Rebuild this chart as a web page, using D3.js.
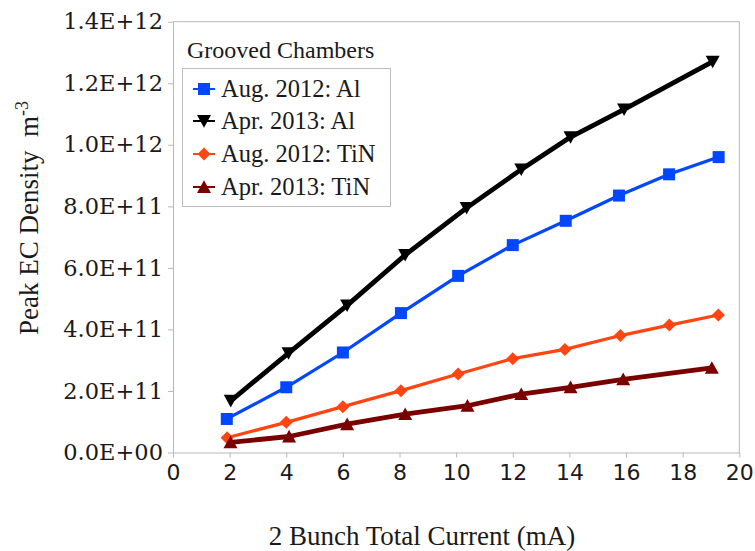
<!DOCTYPE html>
<html>
<head>
<meta charset="utf-8">
<script src="https://cdn.jsdelivr.net/npm/d3@7"></script>
<style>
  html, body { margin: 0; padding: 0; background: #fff; }
  svg { display: block; }
</style>
</head>
<body>
<div id="chart"></div>
<script>
// ---- Data ----
const seriesNames = ["Aug. 2012: Al", "Apr. 2013: Al", "Aug. 2012: TiN", "Apr. 2013: TiN"];

const xAug2012Al = [1.9, 4.0, 6.0, 8.05, 10.07, 12.0, 13.87, 15.75, 17.52, 19.27];
const yAug2012Al = [1.09e11, 2.12e11, 3.25e11, 4.53e11, 5.74e11, 6.74e11, 7.53e11, 8.35e11, 9.04e11, 9.6e11];

const xApr2013Al = [2.04, 4.08, 6.15, 8.2, 10.37, 12.3, 14.04, 15.93, 19.06];
const yApr2013Al = [1.68e11, 3.23e11, 4.78e11, 6.42e11, 7.95e11, 9.2e11, 10.25e11, 11.15e11, 12.7e11];

const xAug2012TiN = [1.91, 4.0, 6.0, 8.05, 10.07, 12.0, 13.84, 15.8, 17.53, 19.26];
const yAug2012TiN = [0.48e11, 0.98e11, 1.49e11, 2.01e11, 2.55e11, 3.05e11, 3.35e11, 3.8e11, 4.14e11, 4.47e11];

const xApr2013TiN = [2.03, 4.1, 6.15, 8.2, 10.4, 12.3, 14.04, 15.9, 19.03];
const yApr2013TiN = [0.33e11, 0.52e11, 0.92e11, 1.25e11, 1.52e11, 1.9e11, 2.12e11, 2.38e11, 2.75e11];

const xTicks = [0, 2, 4, 6, 8, 10, 12, 14, 16, 18, 20];
const yTicks = [0, 0.2e12, 0.4e12, 0.6e12, 0.8e12, 1.0e12, 1.2e12, 1.4e12];

const legendTitle = "Grooved Chambers";
const xTitle = "2 Bunch Total Current (mA)";
const yTitle = "Peak EC Density  m";
const yTitleSup = "-3";

// ---- Styles ----
const styles = [
  { color: "#0047ff", width: 3.2, marker: "square", size: 12 },
  { color: "#000000", width: 4.8, marker: "down", size: 14 },
  { color: "#ff4512", width: 3.2, marker: "diamond", size: 13 },
  { color: "#7a0000", width: 4.8, marker: "up", size: 14 }
];

const series = [
  { xs: xAug2012Al, ys: yAug2012Al },
  { xs: xApr2013Al, ys: yApr2013Al },
  { xs: xAug2012TiN, ys: yAug2012TiN },
  { xs: xApr2013TiN, ys: yApr2013TiN }
].map((s, i) => ({
  name: seriesNames[i],
  style: styles[i],
  points: s.xs.map((x, j) => ({ x, y: s.ys[j] }))
}));

const W = 755, H = 551;
const L = 173, R = 739.3, T = 21.7, B = 452.5;

const svg = d3.select("#chart").append("svg")
  .attr("width", W).attr("height", H);

const x = d3.scaleLinear().domain([0, 20]).range([L, R]);
const y = d3.scaleLinear().domain([0, 1.4e12]).range([B, T]);

const axisColor = "#b8b8b8";

// plot frame (top and right)
svg.append("line").attr("x1", L).attr("x2", R).attr("y1", T).attr("y2", T)
  .attr("stroke", axisColor).attr("stroke-width", 1);
svg.append("line").attr("x1", R).attr("x2", R).attr("y1", T).attr("y2", B)
  .attr("stroke", axisColor).attr("stroke-width", 1);

function fmtE(v) {
  if (v === 0) return "0.0E+00";
  const e = Math.floor(Math.log10(v) + 1e-9);
  const m = v / Math.pow(10, e);
  return m.toFixed(1) + "E+" + String(e).padStart(2, "0");
}

// y axis
const yAxis = svg.append("g").attr("transform", `translate(${L},0)`)
  .call(d3.axisLeft(y).tickValues(yTicks).tickFormat(fmtE).tickSize(5).tickSizeOuter(0).tickPadding(5));
yAxis.select(".domain").attr("stroke", axisColor);
yAxis.selectAll(".tick line").attr("stroke", axisColor);
yAxis.selectAll(".tick text")
  .attr("font-family", "'DejaVu Serif', serif")
  .attr("font-size", 22.5).attr("fill", "#1a1a1a");

// x axis
const xAxis = svg.append("g").attr("transform", `translate(0,${B})`)
  .call(d3.axisBottom(x).tickValues(xTicks).tickFormat(d3.format("d")).tickSize(5).tickSizeOuter(0).tickPadding(7));
xAxis.select(".domain").attr("stroke", axisColor);
xAxis.selectAll(".tick line").attr("stroke", axisColor);
xAxis.selectAll(".tick text")
  .attr("font-family", "'DejaVu Sans', sans-serif")
  .attr("font-size", 22).attr("fill", "#1a1a1a");

// titles
svg.append("text")
  .attr("x", 422).attr("y", 545)
  .attr("text-anchor", "middle")
  .attr("font-family", "'Liberation Serif', serif")
  .attr("font-size", 27).attr("fill", "#1a1a1a")
  .text(xTitle);

const yt = svg.append("text")
  .attr("transform", "translate(38,218) rotate(-90)")
  .attr("text-anchor", "middle")
  .attr("font-family", "'Liberation Serif', serif")
  .attr("font-size", 27).attr("fill", "#1a1a1a")
  .style("white-space", "pre");
yt.append("tspan").text(yTitle);
yt.append("tspan").attr("font-size", 18).attr("dy", -10).text(yTitleSup);

// marker shapes
function markerPath(type, size) {
  const h = size / 2;
  switch (type) {
    case "square": return `M${-h},${-h}H${h}V${h}H${-h}Z`;
    case "diamond": return `M0,${-h}L${h},0L0,${h}L${-h},0Z`;
    case "down": return `M${-h},${-h * 0.85}L${h},${-h * 0.85}L0,${h * 0.95}Z`;
    case "up": return `M${-h},${h * 0.85}L${h},${h * 0.85}L0,${-h * 0.95}Z`;
  }
}

const line = d3.line().x(d => x(d.x)).y(d => y(d.y));

series.forEach(s => {
  const g = svg.append("g");
  g.append("path").datum(s.points)
    .attr("d", line)
    .attr("fill", "none")
    .attr("stroke", s.style.color)
    .attr("stroke-width", s.style.width)
    .attr("stroke-linejoin", "round");
  g.selectAll("path.m").data(s.points).enter().append("path")
    .attr("class", "m")
    .attr("transform", d => `translate(${x(d.x)},${y(d.y)})`)
    .attr("d", markerPath(s.style.marker, s.style.size))
    .attr("fill", s.style.color);
});

// legend
svg.append("text")
  .attr("x", 187).attr("y", 58)
  .attr("font-family", "'Liberation Serif', serif")
  .attr("font-size", 24).attr("fill", "#1a1a1a")
  .text(legendTitle);

svg.append("rect")
  .attr("x", 182.5).attr("y", 68.5).attr("width", 208).attr("height", 138)
  .attr("fill", "#fff").attr("stroke", "#bdbdbd").attr("stroke-width", 1);

const legY = [89, 121, 154, 187];
series.forEach((s, i) => {
  const g = svg.append("g").attr("transform", `translate(0,${legY[i]})`);
  g.append("line").attr("x1", 193).attr("x2", 215).attr("y1", 0).attr("y2", 0)
    .attr("stroke", s.style.color).attr("stroke-width", 2);
  g.append("path").attr("transform", "translate(204,0)")
    .attr("d", markerPath(s.style.marker, s.style.size))
    .attr("fill", s.style.color);
  g.append("text").attr("x", 221).attr("y", 8)
    .attr("font-family", "'Liberation Serif', serif")
    .attr("font-size", 24.5).attr("fill", "#1a1a1a")
    .text(s.name);
});
</script>
</body>
</html>
